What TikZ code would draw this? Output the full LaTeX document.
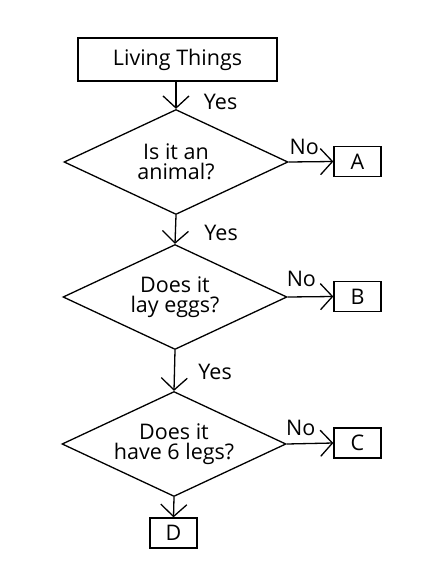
\documentclass[tikz,border=0pt]{standalone}
\usepackage{fontspec}
\setmainfont{Open Sans}
\usetikzlibrary{shapes.geometric,arrows.meta}

\begin{document}
\begin{tikzpicture}[x=1pt,y=-1pt,font=\fontsize{21.5}{20}\selectfont,line width=1.3pt,
  >={Straight Barb[length=12pt,width=26pt,line width=1.3pt]}]
  \tikzset{
    box/.style={
      draw,
      inner sep=0pt,
      align=center
    },
    question/.style={
      draw,
      diamond,
      inner sep=0pt,
      minimum width=224pt,
      minimum height=105pt,
      label={[align=center]center:#1}
    },
    answer/.style={
      box,
      minimum width=47pt,
      minimum height=30pt
    }
  }
  \useasboundingbox (0,0) rectangle (442,588);

  \node[box,minimum width=199pt,minimum height=43pt] (living) at (177.5,59.5) {Living Things};

  \node[question={Is it an\\animal?}] (animal) at (176,162) {};
  \node[question={Does it\\lay eggs?}] (eggs) at (175,297) {};
  \node[question={Does it\\have 6 legs?}] (legs) at (174,444) {};

  \node[answer] (a) at (357.5,161.5) {A};
  \node[answer] (b) at (357.5,296.5) {B};
  \node[answer] (c) at (357.5,443) {C};
  \node[answer] (d) at (173.5,533) {D};

  \draw[->] (living.south -| animal.north) -- node[midway,right,xshift=24pt,yshift=-7pt]{Yes} (animal.north);
  \draw[->] (animal.south) -- node[midway,right,xshift=25pt,yshift=-3pt]{Yes} (eggs.north);
  \draw[->] (eggs.south) -- node[midway,right,xshift=20pt,yshift=-1pt]{Yes} (legs.north);
  \draw[->] (legs.south) -- (d.north);

  \draw[->] (animal.east) -- node[pos=.35,above,yshift=3pt]{No} (a.west);
  \draw[->] (eggs.east) -- node[pos=.3,above,yshift=6pt]{No} (b.west);
  \draw[->] (legs.east) -- node[pos=.3,above,yshift=4pt]{No} (c.west);
\end{tikzpicture}
\end{document}
